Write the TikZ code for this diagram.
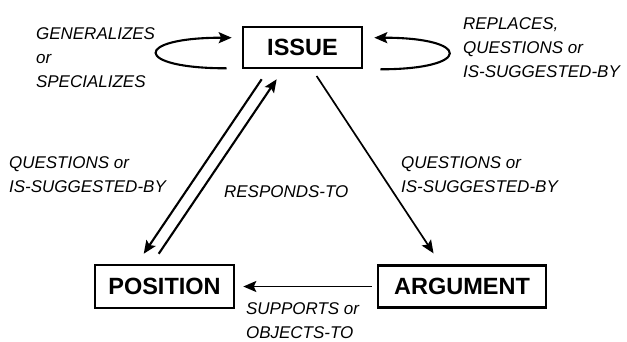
\documentclass[tikz,border=0pt]{standalone}
\usepackage{fontspec}
\setmainfont{Liberation Sans}
\usetikzlibrary{arrows.meta,calc}
\begin{document}
\begin{tikzpicture}[
        x=1pt, y=-1pt,
        box/.style={draw, rectangle, line width=2.6pt, inner sep=0pt, font=\bfseries\fontsize{23.5}{23.5}\selectfont},
        lbl/.style={align=left, inner sep=0pt, anchor=west, font=\itshape\fontsize{17}{24}\selectfont},
        >={Stealth[length=13pt,width=11pt,inset=2.5pt]},
        line width=2.1pt
    ]
        \useasboundingbox (0,0) rectangle (627,341);
        \node[box, minimum width=119pt, minimum height=41pt] (issue) at (302.5,47.5) {ISSUE};
        \node[box, minimum width=139pt, minimum height=43pt] (position) at (164.5,286.5) {POSITION};
        \node[box, minimum width=168pt, minimum height=42pt] (argument) at (462,286.5) {ARGUMENT};

        \node[lbl] (genspec) at (35,57.5) {GENERALIZES\\or\\SPECIALIZES};
        \node[lbl] (replaces) at (462,47.5) {REPLACES,\\QUESTIONS or\\IS-SUGGESTED-BY};
        \node[lbl] (questleft) at (8,175) {QUESTIONS or\\IS-SUGGESTED-BY};
        \node[lbl] (responds) at (223,192) {RESPONDS-TO};
        \node[lbl] (questright) at (400,175) {QUESTIONS or\\IS-SUGGESTED-BY};
        \node[lbl] (supports) at (245,321) {SUPPORTS or\\OBJECTS-TO};

        % loops on ISSUE
        \draw[->] ($(issue.south west)+(-15,-1)$) .. controls ($(issue.south west)+(-109,-1)$) and ($(issue.north west)+(-109,12)$) .. ($(issue.north west)+(-10,12)$);
        \draw[->] ($(issue.south east)+(17,0)$) .. controls ($(issue.south east)+(109,0)$) and ($(issue.north east)+(109,12)$) .. ($(issue.north east)+(11,12)$);

        \draw[->, shorten <=12pt, shorten >=12pt] ($(issue.south west)+(26.7,0)$) -- ($(position.north west)+(43.3,0)$);
        \draw[->, shorten <=12pt, shorten >=12pt] ($(position.north west)+(58.3,0)$) -- ($(issue.south west)+(41.7,0)$);
        \draw[->, line width=1.7pt, shorten <=8pt, shorten >=13pt] ($(issue.south west)+(70.5,0)$) -- ($(argument.north west)+(64,0)$);
        \draw[->, line width=1.6pt, shorten <=5pt, shorten >=8pt] (argument) -- (position);
    \end{tikzpicture}
\end{document}
